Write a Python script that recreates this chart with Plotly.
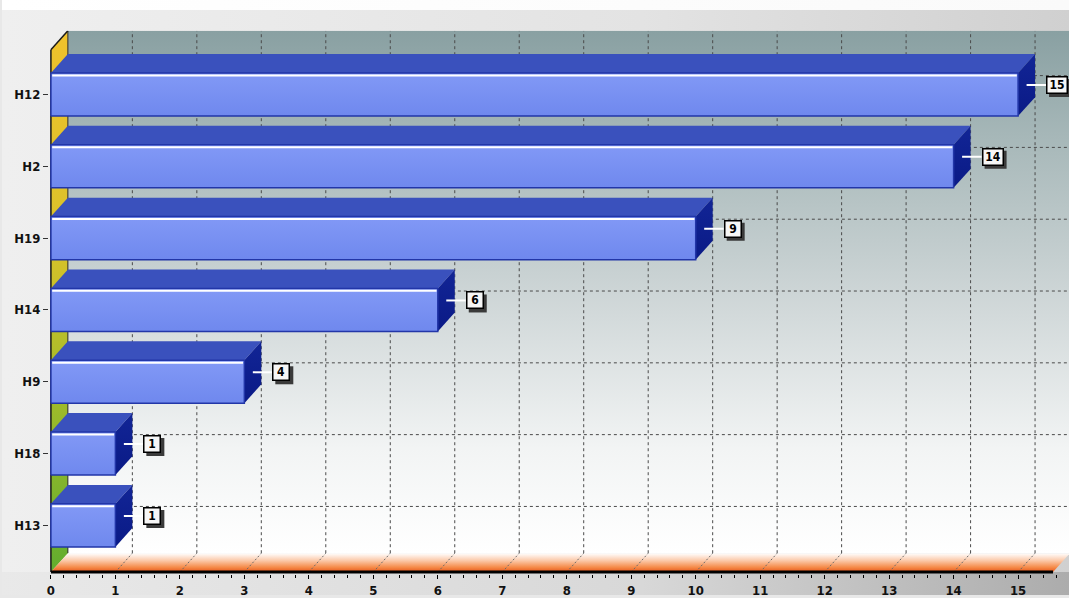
import plotly.graph_objects as go

# ---------------- data ----------------
categories = ['H13', 'H18', 'H9', 'H14', 'H19', 'H2', 'H12']   # bottom -> top
bar_values = [1, 1, 3, 6, 10, 14, 15]                          # bar lengths as drawn
label_values = [1, 1, 4, 6, 9, 14, 15]                         # numbers printed in the boxes
x_tick_values = list(range(0, 16))

# ---------------- layout constants ----------------
W, H = 1069, 598
PX_X = 64.6          # pixels per value unit
PX_Y = 72.17         # pixels per category
DX = 17 / PX_X       # 3-D depth (x)
DY = 19 / PX_Y       # 3-D depth (y)
BW = 0.6             # bar thickness (category units)

PLOT_L, PLOT_R, PLOT_T, PLOT_B = 47, W, 31, 577   # pixel box of the chart axes
X_MIN = -(49 - PLOT_L) / PX_X
X_MAX = X_MIN + (PLOT_R - PLOT_L) / PX_X
Y_MIN = -(PLOT_B - 528) / PX_Y
Y_MAX = Y_MIN + (PLOT_B - PLOT_T) / PX_Y
Y_FLOOR = -(575 - 528) / PX_Y
X_END = (1053 - 49) / PX_X

LABEL_FONT = 'DejaVu Sans Condensed, Liberation Sans Narrow, Arial'

fig = go.Figure()

# ---------- paper background (full-figure subplot) ----------
def bg_rect(x0, x1, y0, y1, scale, kind='horizontal'):
    fig.add_trace(go.Scatter(
        x=[x0, x1, x1, x0, x0], y=[y0, y0, y1, y1, y0], mode='lines',
        line=dict(width=0), fill='toself',
        fillgradient=dict(type=kind, colorscale=scale),
        hoverinfo='skip', xaxis='x', yaxis='y'))

bg_rect(0, 1, 0, 1, [[0, '#efefef'], [0.6, '#e3e3e3'], [1, '#d0d0d0']])
bg_rect(0, 1, 0, 23 / H, [[0, '#e9e9e9'], [0.6, '#d8d8d8'], [1, '#acacac']])
bg_rect(0, 1, 1 - 10 / H, 1, [[0, '#ffffff'], [1, '#fafafa']])

# ---------- chart helpers ----------
def poly(xs, ys, color=None, scale=None, kind='vertical', lc=None, lw=0):
    kw = dict(x=list(xs) + [xs[0]], y=list(ys) + [ys[0]], mode='lines',
              fill='toself', hoverinfo='skip', xaxis='x2', yaxis='y2',
              line=dict(width=lw, color=lc or 'rgba(0,0,0,0)'))
    if scale is not None:
        kw['fillgradient'] = dict(type=kind, colorscale=scale)
    else:
        kw['fillcolor'] = color
    fig.add_trace(go.Scatter(**kw))

def lines(segs, color, width=1, dash=None):
    xs, ys = [], []
    for (x0, y0, x1, y1) in segs:
        xs += [x0, x1, None]
        ys += [y0, y1, None]
    fig.add_trace(go.Scatter(x=xs, y=ys, mode='lines',
                             line=dict(color=color, width=width, dash=dash),
                             hoverinfo='skip', xaxis='x2', yaxis='y2'))

Y_BACK = Y_FLOOR + DY

# back wall
poly([DX, X_MAX, X_MAX, DX], [Y_BACK, Y_BACK, Y_MAX, Y_MAX],
     scale=[[0, '#ffffff'], [0.2, '#f2f4f4'], [0.5, '#cdd5d6'], [0.8, '#a6b7b8'], [1, '#89a0a2']])

# back-wall grid
n = len(categories)
lines([(k + DX, Y_BACK, k + DX, Y_MAX) for k in x_tick_values[1:]], '#4a4a4a', 1, '3px,3px')
lines([(DX, i + DY, X_MAX, i + DY) for i in range(n)], '#4a4a4a', 1, '3px,3px')

# left wall
poly([0, DX, DX, 0], [Y_FLOOR, Y_BACK, Y_MAX, Y_MAX - DY],
     scale=[[0, '#62ad2e'], [0.35, '#a6bc2a'], [0.6, '#d8c22a'], [1, '#f0c22c']])
lines([(DX, Y_BACK, DX, Y_MAX)], '#2a2a2a', 1)
lines([(0, Y_FLOOR, 0, Y_MAX - DY), (0, Y_MAX - DY, DX, Y_MAX)], '#1a1a1a', 1.5)

# floor
poly([0, X_END, X_END + DX, DX], [Y_FLOOR, Y_FLOOR, Y_BACK, Y_BACK],
     scale=[[0, '#e8561a'], [0.25, '#f58a48'], [0.6, '#fbc7a6'], [1, '#ffffff']])
lines([(k, Y_FLOOR, k + DX, Y_BACK) for k in x_tick_values[1:]], '#6a6a6a', 1, '2px,2px')

# bars
for i in reversed(range(n)):
    v = bar_values[i]
    y0, y1 = i - BW / 2, i + BW / 2
    # top face
    poly([0, v, v + DX, DX], [y1, y1, y1 + DY, y1 + DY], color='#3a51bd')
    # side face
    poly([v, v + DX, v + DX, v], [y0, y0 + DY, y1 + DY, y1],
         scale=[[0, '#0a1a86'], [1, '#122596']])
    # front face
    poly([0, v, v, 0], [y0, y0, y1, y1],
         scale=[[0, '#6f88ee'], [1, '#8299f6']], lc='#2236a8', lw=1.5)
    # highlight
    lines([(0.02, y1 - 2.5 / PX_Y, v - 0.02, y1 - 2.5 / PX_Y)], '#ffffff', 2)
    # connector to label
    lines([(v + DX / 2, i + DY / 2, v + DX + 11 / PX_X, i + DY / 2)], '#ffffff', 2)

# x axis line
lines([(0, Y_FLOOR, X_END, Y_FLOOR)], '#000000', 3)

# value labels (box + drop shadow)
BOX_H = 18
for i in range(n):
    v = bar_values[i]
    txt = str(label_values[i])
    box_w = 22 if len(txt) > 1 else 18
    fig.add_shape(type='rect', xref='x2', yref='y2',
                  xsizemode='pixel', ysizemode='pixel',
                  xanchor=v + DX, yanchor=i + DY / 2,
                  x0=11 + 3, x1=11 + 3 + box_w, y0=-BOX_H / 2 - 3, y1=BOX_H / 2 - 3,
                  fillcolor='#3a3a3a', line=dict(width=0), layer='above')
    fig.add_annotation(text=txt, x=v + DX, y=i + DY / 2, xref='x2', yref='y2',
                       xanchor='left', yanchor='middle', xshift=11, showarrow=False,
                       width=box_w - 5, height=BOX_H - 5, align='center', valign='middle',
                       borderpad=1, borderwidth=1.5, bordercolor='#000000', bgcolor='#f6f6f6',
                       font=dict(family=LABEL_FONT, size=12, color='#000000', weight='bold'))

fig.update_layout(
    width=W, height=H, margin=dict(l=0, r=0, t=0, b=0),
    paper_bgcolor='#e8e8e8', plot_bgcolor='rgba(0,0,0,0)', showlegend=False,
    xaxis=dict(domain=[0, 1], range=[0, 1], visible=False, fixedrange=True),
    yaxis=dict(domain=[0, 1], range=[0, 1], visible=False, fixedrange=True),
    xaxis2=dict(domain=[PLOT_L / W, PLOT_R / W], range=[X_MIN, X_MAX], anchor='y2',
                showgrid=False, zeroline=False, showline=False,
                tickmode='array', tickvals=x_tick_values,
                ticktext=[str(t) for t in x_tick_values],
                ticks='outside', ticklen=4, tickcolor='#000000',
                tickfont=dict(family=LABEL_FONT, size=13, color='#111111', weight='bold'),
                minor=dict(dtick=0.2, ticks='outside', ticklen=3, tickcolor='#000000', showgrid=False),
                fixedrange=True),
    yaxis2=dict(domain=[(H - PLOT_B) / H, (H - PLOT_T) / H], range=[Y_MIN, Y_MAX], anchor='x2',
                showgrid=False, zeroline=False, showline=False,
                tickmode='array', tickvals=list(range(n)), ticktext=categories,
                ticks='outside', ticklen=5, tickcolor='#333333',
                tickfont=dict(family=LABEL_FONT, size=13, color='#111111', weight='bold'),
                fixedrange=True),
)

fig.write_html("out.html")
